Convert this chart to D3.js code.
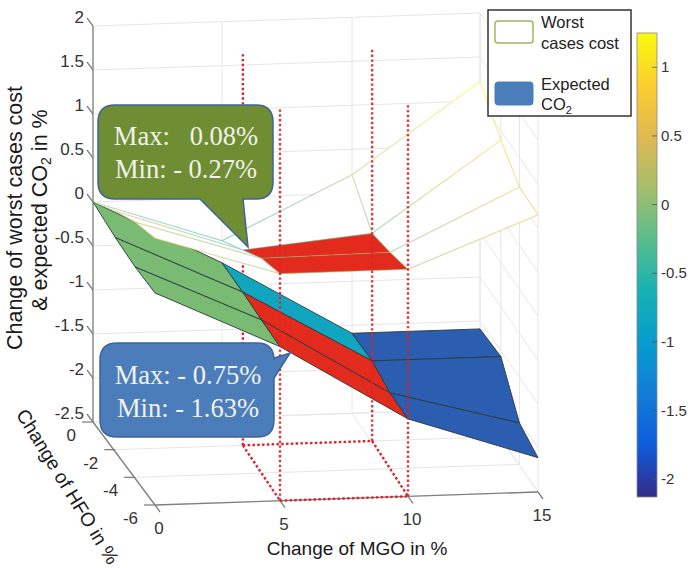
<!DOCTYPE html>
<html><head><meta charset="utf-8">
<script src="https://cdn.jsdelivr.net/npm/d3@7"></script>
<style>html,body{margin:0;padding:0;background:#fff}svg{display:block}
text{font-family:"Liberation Sans",Arial,sans-serif}</style></head>
<body><svg id="c" width="697" height="568"></svg>
<script>
// ---- data ----
const mgoLevels = [0, 5, 10, 15];
const hfoLevels = [0, -2, -4, -6];
// z values: rows follow mgoLevels, columns follow hfoLevels
const worstCost = [
  [0, 0.21, 0.40, 0.53],
  [-0.49, -0.28, -0.06, 0.08],
  [0.21, -0.14, -0.04, 0.08],
  [1.22, 0.87, 0.65, 0.65]
];
const expectedCO2 = [
  [0, -0.09, -0.11, -0.09],
  [-0.74, -0.76, -0.76, -0.75],
  [-1.59, -1.59, -1.64, -1.62],
  [-1.59, -1.59, -2.03, -2.11]
];
// patch colours: rows are MGO intervals, columns are HFO intervals
const expectedFill = [
  ["#7abb74", "#7abb74", "#7abb74"],
  ["#12a5bf", "#e32b1d", "#e32b1d"],
  ["#2b5db0", "#2b5db0", "#2b5db0"]
];
const worstFill = [
  ["#fff", "#fff", "#fff"],
  ["#fff", "#e32b1d", "#e32b1d"],
  ["#fff", "#fff", "#fff"]
];
const zTicks = [2, 1.5, 1, 0.5, 0, -0.5, -1, -1.5, -2, -2.5];
const cbTicks = [1, 0.5, 0, -0.5, -1, -1.5, -2];
const cbDomain = [-2.13, 1.25];
const parula = ["#352a87","#0f5cdd","#127dd8","#079ccf","#15b1b4","#59bd8c","#a5be6b","#e1b952","#fcce2e","#f9fb0e"];
const boxCorners = [[5, -2], [5, -6], [10, -2], [10, -6]];
const boxTopZ = 1.95;
const calloutTexts = [["Max:   0.08%", "Min: - 0.27%"], ["Max: - 0.75%", "Min: - 1.63%"]];

// ---- scales ----
const svg = d3.select("#c");
const xBack = d3.scaleLinear().domain(mgoLevels).range([93, 222, 352, 480]);
const xFront = d3.scaleLinear().domain(mgoLevels).range([155, 280, 408, 538]);
const hT = d3.scaleLinear().domain(hfoLevels).range([0, 0.36, 0.68, 1]);
const yFloorH = d3.scaleLinear().domain([0, -6]).range([422, 505]);
const yFloorM = d3.scaleLinear().domain([0, 15]).range([0, -13]);
const zPx = d3.scaleLinear().domain([-2.5, 2]).range([0, -396]);
const P = (m, h, z) => {
  const t = hT(h);
  return [xBack(m) * (1 - t) + xFront(m) * t, yFloorH(h) + yFloorM(m) + zPx(z)];
};
const cbY = d3.scaleLinear().domain([1.25, -2.13]).range([33, 497]);
const cbColor = d3.scaleLinear()
  .domain(d3.range(parula.length).map(i => cbDomain[0] + (cbDomain[1] - cbDomain[0]) * i / (parula.length - 1)))
  .range(parula).interpolate(d3.interpolateRgb);
const line = d3.line();
const defs = svg.append("defs");

// ---- grid ----
const grid = svg.append("g").attr("fill", "none").attr("stroke", "#e6e6e6").attr("stroke-width", 1);
const seg = (g, a, b) => g.append("path").attr("d", line([a, b]));
zTicks.forEach(z => {
  seg(grid, P(0, 0, z), P(15, 0, z));
  seg(grid, P(15, 0, z), P(15, -6, z));
});
mgoLevels.forEach(m => {
  seg(grid, P(m, 0, -2.5), P(m, 0, 2));
  seg(grid, P(m, 0, -2.5), P(m, -6, -2.5));
});
hfoLevels.forEach(h => {
  seg(grid, P(15, h, -2.5), P(15, h, 2));
  seg(grid, P(0, h, -2.5), P(15, h, -2.5));
});

// ---- axes ----
const axes = svg.append("g").attr("fill", "none").attr("stroke", "#808080").attr("stroke-width", 1.3);
seg(axes, P(0, 0, -2.5), P(0, 0, 2));
seg(axes, P(0, 0, -2.5), P(0, -6, -2.5));
seg(axes, P(0, -6, -2.5), P(15, -6, -2.5));
const tickG = svg.append("g").attr("fill", "#333").attr("font-size", 17);
zTicks.forEach(z => {
  const [x, y] = P(0, 0, z);
  seg(axes, [x, y], [x - 6, y - 8]);
  tickG.append("text").attr("x", x - 9).attr("y", y - 5).attr("dy", "0.1em").attr("text-anchor", "end").text(z);
});
hfoLevels.forEach(h => {
  const [x, y] = P(0, h, -2.5);
  seg(axes, [x, y], [x - 11, y]);
  tickG.append("text").attr("x", x - 17).attr("y", y + 19).attr("text-anchor", "end").text(h);
});
mgoLevels.forEach(m => {
  const [x, y] = P(m, -6, -2.5);
  seg(axes, [x, y], [x + 5, y + 7]);
  tickG.append("text").attr("x", x + 4).attr("y", y + 29).attr("text-anchor", "middle").text(m);
});

// ---- dotted box ----
const dotted = (g, a, b, op) => g.append("path").attr("d", line([a, b])).attr("fill", "none")
  .attr("stroke", "#d8232a").attr("stroke-width", 2.4).attr("stroke-dasharray", "2.4 2.4").attr("opacity", op);
dotted(svg, P(5, -2, -2.5), P(10, -2, -2.5), 1);
dotted(svg, P(5, -2, -2.5), P(5, -6, -2.5), 1);
dotted(svg, P(10, -2, -2.5), P(10, -6, -2.5), 1);
dotted(svg, P(5, -6, -2.5), P(10, -6, -2.5), 1);
dotted(svg, P(5, -2, -2.5), P(5, -2, boxTopZ), 1); // sits behind the surfaces

// ---- surfaces ----
const drawPatches = (g, Z, fills, stroke) => {
  for (let i = 0; i < 3; i++) for (let j = 0; j < 3; j++) {
    const q = [P(mgoLevels[i], hfoLevels[j], Z[i][j]), P(mgoLevels[i + 1], hfoLevels[j], Z[i + 1][j]),
               P(mgoLevels[i + 1], hfoLevels[j + 1], Z[i + 1][j + 1]), P(mgoLevels[i], hfoLevels[j + 1], Z[i][j + 1])];
    g.append("path").attr("d", line(q) + "Z").attr("fill", fills[i][j]).attr("stroke", stroke)
      .attr("stroke-width", stroke === "none" ? 0 : 0.9).attr("stroke-linejoin", "round");
  }
};
drawPatches(svg.append("g"), expectedCO2, expectedFill, "#2b3a3c");
drawPatches(svg.append("g"), worstCost, worstFill, "none");

// worst-case surface edges, coloured by height
let gid = 0;
const edges = svg.append("g").attr("fill", "none").attr("stroke-width", 1.1).attr("opacity", 0.55);
const edge = (m1, h1, z1, m2, h2, z2) => {
  const a = P(m1, h1, z1), b = P(m2, h2, z2), id = "e" + (gid++);
  const gr = defs.append("linearGradient").attr("id", id).attr("gradientUnits", "userSpaceOnUse")
    .attr("x1", a[0]).attr("y1", a[1]).attr("x2", b[0]).attr("y2", b[1]);
  gr.append("stop").attr("offset", 0).attr("stop-color", cbColor(z1));
  gr.append("stop").attr("offset", 1).attr("stop-color", cbColor(z2));
  edges.append("path").attr("d", `M${a[0]},${a[1]}L${b[0] + 0.01},${b[1] + 0.01}`).attr("stroke", `url(#${id})`);
};
mgoLevels.forEach((m, i) => hfoLevels.forEach((h, j) => {
  if (i < 3) edge(m, h, worstCost[i][j], mgoLevels[i + 1], h, worstCost[i + 1][j]);
  if (j < 3) edge(m, h, worstCost[i][j], m, hfoLevels[j + 1], worstCost[i][j + 1]);
}));

// ---- dotted verticals over the surfaces ----
boxCorners.slice(1).forEach(([m, h]) => dotted(svg, P(m, h, -2.5), P(m, h, boxTopZ), 0.9));

// ---- callouts ----
const callout = (x, y, w, h, r, fill, pts, lines, tx, tys) => {
  const g = svg.append("g");
  const [a, tip, b] = pts;
  const horizontalBase = a[1] === y + h;
  let d;
  if (horizontalBase) {
    d = `M${x + r},${y}H${x + w - r}Q${x + w},${y} ${x + w},${y + r}V${y + h - r}Q${x + w},${y + h} ${x + w - r},${y + h}` +
        `H${b[0]}L${tip[0]},${tip[1]}L${a[0]},${a[1]}H${x + r}Q${x},${y + h} ${x},${y + h - r}V${y + r}Q${x},${y} ${x + r},${y}Z`;
  } else {
    d = `M${x + r},${y}H${x + w - r}Q${x + w},${y} ${x + w},${y + r}V${a[1]}L${tip[0]},${tip[1]}L${b[0]},${b[1]}` +
        `V${y + h - r}Q${x + w},${y + h} ${x + w - r},${y + h}H${x + r}Q${x},${y + h} ${x},${y + h - r}V${y + r}Q${x},${y} ${x + r},${y}Z`;
  }
  g.append("path").attr("d", d).attr("fill", fill).attr("stroke", "#3f6399").attr("stroke-width", 1.5);
  lines.forEach((t, i) => g.append("text").attr("x", tx).attr("y", tys[i]).attr("fill", "#f2f2ea")
    .attr("xml:space", "preserve").style("white-space", "pre")
    .style("font-family", "'Liberation Serif','Times New Roman',serif")
    .attr("font-size", 26.5).attr("text-anchor", "middle").text(t));
};
callout(98, 105, 175, 94, 17, "#6f8e34", [[200, 199], [248, 247], [243, 199]], calloutTexts[0], 186, [145, 178]);
callout(100, 343, 174, 94, 17, "#4c7dbb", [[274, 358], [290, 353], [274, 378]], calloutTexts[1], 188, [384, 417]);

// ---- axis titles ----
const tt = svg.append("g").attr("fill", "#1a1a1a").attr("font-size", 21.5);
tt.append("text").attr("transform", "translate(22,218) rotate(-90)").attr("text-anchor", "middle").text("Change of worst cases cost");
const t2 = tt.append("text").attr("transform", "translate(47,210) rotate(-90)").attr("text-anchor", "middle");
t2.append("tspan").text("& expected CO");
t2.append("tspan").attr("font-size", 14).attr("dy", 4).text("2");
t2.append("tspan").attr("dy", -4).text(" in %");
tt.append("text").attr("x", 357).attr("y", 555).attr("text-anchor", "middle").attr("font-size", 19).text("Change of MGO in %");
tt.append("text").attr("transform", "translate(62,490) rotate(58.5)").attr("text-anchor", "middle").attr("font-size", 19.3).text("Change of HFO in %");

// ---- colourbar ----
const cbg = defs.append("linearGradient").attr("id", "cb").attr("x1", 0).attr("y1", 1).attr("x2", 0).attr("y2", 0);
parula.forEach((c, i) => cbg.append("stop").attr("offset", i / (parula.length - 1)).attr("stop-color", c));
svg.append("rect").attr("x", 637).attr("y", cbY(cbDomain[1])).attr("width", 20).attr("height", cbY(cbDomain[0]) - cbY(cbDomain[1]))
  .attr("fill", "url(#cb)").attr("stroke", "#8a8a8a").attr("stroke-width", 0.8);
cbTicks.forEach(v => {
  svg.append("path").attr("d", line([[652, cbY(v)], [657, cbY(v)]])).attr("stroke", "#555").attr("stroke-width", 0.8);
  svg.append("text").attr("x", 661).attr("y", cbY(v) + 5).attr("font-size", 15).attr("fill", "#333").text(v);
});

// ---- legend ----
const lg = svg.append("g");
lg.append("rect").attr("x", 488).attr("y", 10).attr("width", 143).attr("height", 106).attr("fill", "#fff").attr("stroke", "#333").attr("stroke-width", 1.5);
lg.append("rect").attr("x", 495).attr("y", 21).attr("width", 38).attr("height", 22).attr("rx", 3).attr("fill", "#fff").attr("stroke", "#9bbb59").attr("stroke-width", 1.5);
lg.append("rect").attr("x", 495).attr("y", 82).attr("width", 38).attr("height", 23).attr("rx", 3).attr("fill", "#4a7ebb").attr("stroke", "#4a7ebb");
const lt = lg.append("g").attr("font-size", 16.5).attr("fill", "#222");
lt.append("text").attr("x", 541).attr("y", 28).text("Worst");
lt.append("text").attr("x", 541).attr("y", 49).text("cases cost");
lt.append("text").attr("x", 541).attr("y", 90).text("Expected");
const co = lt.append("text").attr("x", 541).attr("y", 110);
co.append("tspan").text("CO");
co.append("tspan").attr("font-size", 11).attr("dy", 4).text("2");
</script></body></html>
